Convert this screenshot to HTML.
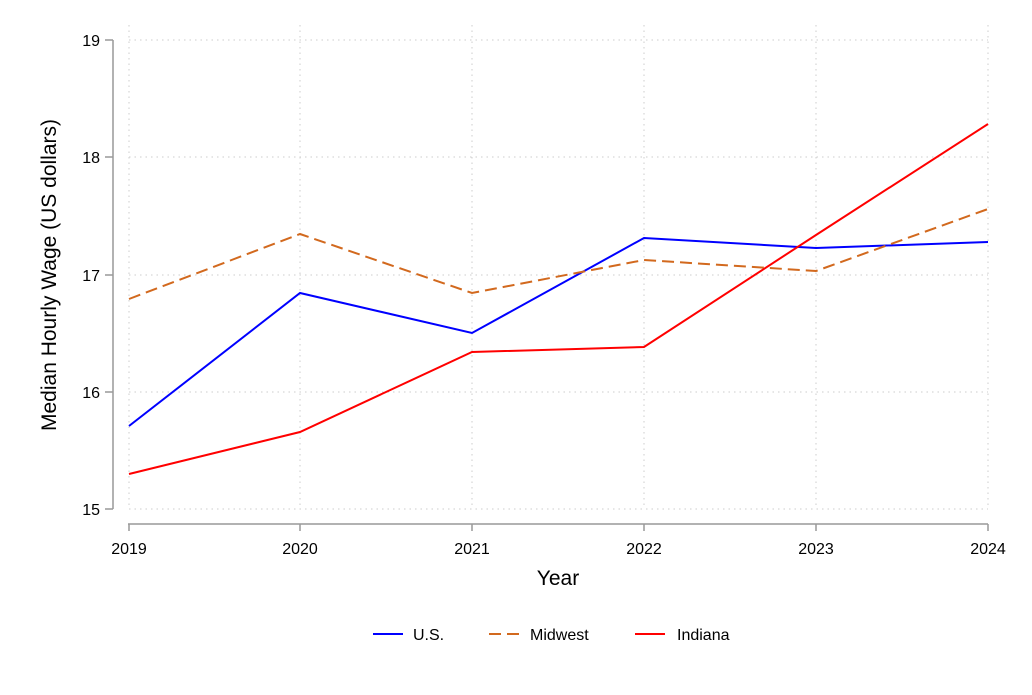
<!DOCTYPE html>
<html><head><style>body{margin:0;background:#fff}</style></head><body>
<svg width="1032" height="690" xmlns="http://www.w3.org/2000/svg" font-family="Liberation Sans, sans-serif">
<g stroke="#ccc" stroke-dasharray="1.5,4" stroke-width="1">
<line x1="129" y1="40" x2="988" y2="40"/><line x1="129" y1="157" x2="988" y2="157"/><line x1="129" y1="275" x2="988" y2="275"/><line x1="129" y1="392" x2="988" y2="392"/><line x1="129" y1="509" x2="988" y2="509"/>
<line x1="129" y1="25" x2="129" y2="509"/><line x1="300" y1="25" x2="300" y2="509"/><line x1="472" y1="25" x2="472" y2="509"/><line x1="644" y1="25" x2="644" y2="509"/><line x1="816" y1="25" x2="816" y2="509"/><line x1="988" y1="25" x2="988" y2="509"/>
</g>
<g stroke="#999" stroke-width="1.5" fill="none">
<path d="M113,40V509"/><path d="M105,40H113M105,157H113M105,275H113M105,392H113M105,509H113"/>
<path d="M128,524H988"/><path d="M129,524V531M300,524V531M472,524V531M644,524V531M816,524V531M988,524V531"/>
</g>
<g font-size="16" fill="#000" text-anchor="end">
<text x="100" y="46">19</text><text x="100" y="163">18</text><text x="100" y="281">17</text><text x="100" y="398">16</text><text x="100" y="515">15</text>
</g>
<g font-size="16" fill="#000" text-anchor="middle">
<text x="129" y="554">2019</text><text x="300" y="554">2020</text><text x="472" y="554">2021</text><text x="644" y="554">2022</text><text x="816" y="554">2023</text><text x="988" y="554">2024</text>
</g>
<text x="558" y="585" font-size="21" text-anchor="middle">Year</text>
<text transform="translate(56,275) rotate(-90)" font-size="21" text-anchor="middle">Median Hourly Wage (US dollars)</text>
<g fill="none" stroke-width="2">
<polyline stroke="#0000ff" points="129,426 300,293 472,333 644,238 816,248 988,242"/>
<polyline stroke="#d2691e" stroke-dasharray="12,6" points="129,299 300,234 472,293 644,260 816,271 988,209"/>
<polyline stroke="#ff0000" points="129,474 300,432 472,352 644,347 816,235 988,124"/>
<line x1="373" y1="634" x2="403" y2="634" stroke="#0000ff"/>
<line x1="489" y1="634" x2="519" y2="634" stroke="#d2691e" stroke-dasharray="12,6"/>
<line x1="635" y1="634" x2="665" y2="634" stroke="#ff0000"/>
</g>
<g font-size="16" fill="#000">
<text x="413" y="640">U.S.</text><text x="530" y="640">Midwest</text><text x="677" y="640">Indiana</text>
</g>
</svg>
</body></html>
